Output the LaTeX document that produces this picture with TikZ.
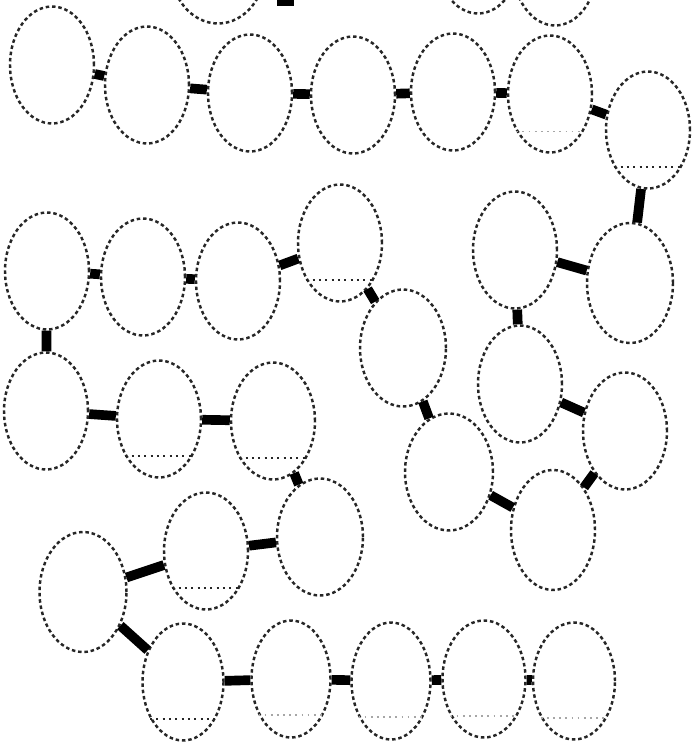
\documentclass[tikz,border=0pt]{standalone}
\usetikzlibrary{shapes.geometric}
\tikzset{
  ring/.style={draw=black!85, ellipse, line width=1.4pt, dash pattern=on 2pt off 1.6pt,
    minimum width=1.68cm, minimum height=2.34cm, inner sep=0pt},
  link/.style={line width=5.5pt, black},
  chord/.style={line width=1.1pt, dash pattern=on 1.2pt off 2.4pt, black!85},
  faint/.style={line width=0.9pt, dash pattern=on 1pt off 2.5pt, black!35},
}
\begin{document}
\begin{tikzpicture}[x=0.02cm, y=-0.02cm]
    \clip (0,0) rectangle (691,744);
    % cut off at the top
    \node[ring, minimum width=1.92cm] (t1) at (218,-35) {};
    \node[ring] (t2) at (478,-45) {};
    \node[ring] (t3) at (555,-33) {};
    \coordinate (cuta) at (277,1);
    \coordinate (cutb) at (294,1);
    % first row
    \node[ring] (a) at (52,65) {};
    \node[ring] (b) at (147,85) {};
    \node[ring] (c) at (250,93) {};
    \node[ring] (d) at (353,95) {};
    \node[ring] (e) at (453,92) {};
    \node[ring] (f) at (550,94) {};
    \node[ring] (g) at (648,130) {};
    % right side
    \node[ring, minimum width=1.72cm, minimum height=2.4cm] (h) at (630,283) {};
    \node[ring] (i) at (515,250) {};
    \node[ring] (j) at (520,384) {};
    \node[ring] (k) at (625,431) {};
    \node[ring, minimum height=2.4cm] (l) at (553,530) {};
    \node[ring, minimum width=1.76cm] (m) at (449,472) {};
    \node[ring, minimum width=1.72cm] (n) at (403,348) {};
    \node[ring] (o) at (340,243) {};
    % middle rows
    \node[ring] (p) at (47,271) {};
    \node[ring] (q) at (143,277) {};
    \node[ring] (r) at (238,281) {};
    \node[ring] (s) at (46,411) {};
    \node[ring] (t) at (159,419) {};
    \node[ring] (u) at (273,421) {};
    \node[ring, minimum width=1.72cm] (v) at (320,537) {};
    \node[ring] (w) at (206,551) {};
    \node[ring, minimum width=1.74cm, minimum height=2.4cm] (x) at (83,592) {};
    % last row
    \node[ring, minimum width=1.62cm] (y1) at (183,682) {};
    \node[ring, minimum width=1.58cm] (y2) at (291,679) {};
    \node[ring, minimum width=1.58cm] (y3) at (391,681) {};
    \node[ring, minimum width=1.66cm] (y4) at (484,679) {};
    \node[ring, minimum width=1.64cm] (y5) at (574,681) {};

    \foreach \e in {g,o,t,u,w,y1}
      \draw[chord] (\e.-132) -- (\e.-48);
    \foreach \e in {f,y2,y3,y4,y5}
      \draw[faint] (\e.-132) -- (\e.-48);

    \draw[link] (cuta) -- (cutb);
    \draw[link] (a) -- (b);
    \draw[link] (b) -- (c);
    \draw[link] (c) -- (d);
    \draw[link] (d) -- (e);
    \draw[link] (e) -- (f);
    \draw[link] (f) -- (g);
    \draw[link] (g) -- (h);
    \draw[link] (i) -- (h);
    \draw[link] (i) -- (j);
    \draw[link] (j) -- (k);
    \draw[link] (k) -- (l);
    \draw[link] (m) -- (l);
    \draw[link] (n) -- (m);
    \draw[link] (o) -- (n);
    \draw[link] (r) -- (o);
    \draw[link] (q) -- (r);
    \draw[link] (p) -- (q);
    \draw[link] (p) -- (s);
    \draw[link] (s) -- (t);
    \draw[link] (t) -- (u);
    \draw[link] (u) -- (v);
    \draw[link] (w) -- (v);
    \draw[link] (x) -- (w);
    \draw[link] (x) -- (y1);
    \draw[link] (y1) -- (y2);
    \draw[link] (y2) -- (y3);
    \draw[link] (y3) -- (y4);
    \draw[link] (y4) -- (y5);
\end{tikzpicture}
\end{document}
